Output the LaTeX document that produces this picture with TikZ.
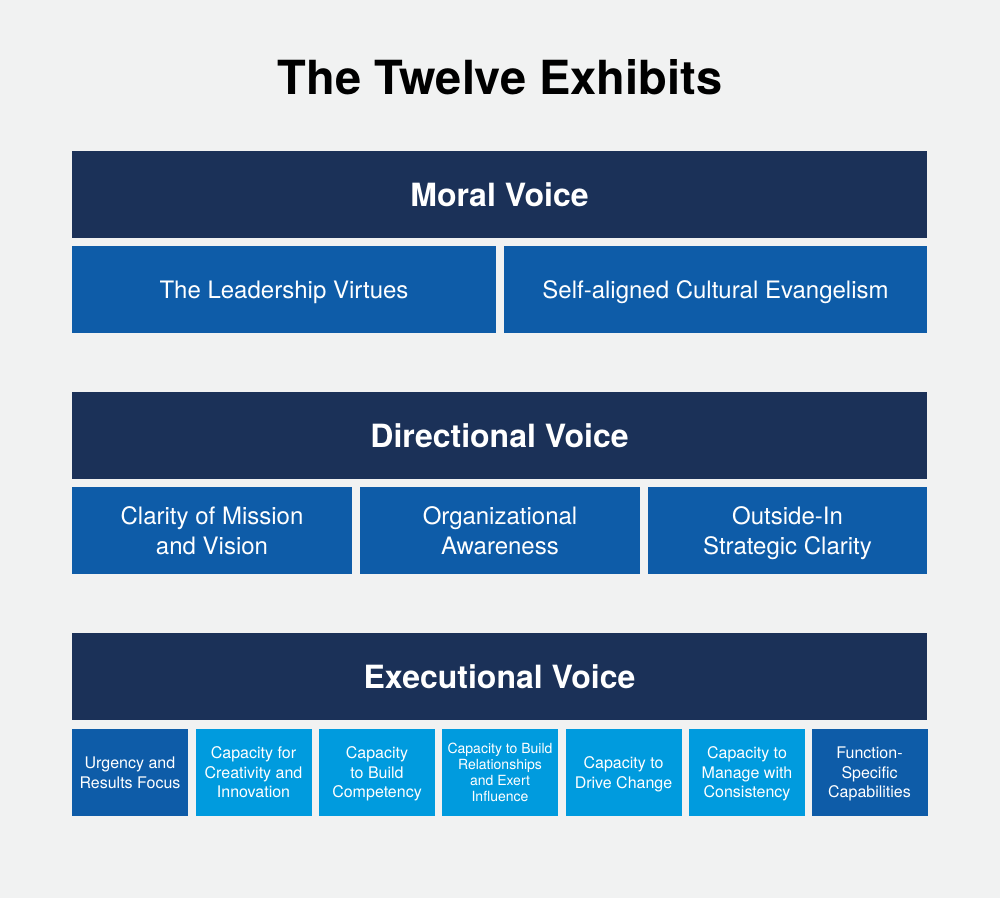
\documentclass[tikz,border=0pt]{standalone}
\usepackage{fontspec}
\setmainfont{TeX Gyre Heros}
\definecolor{bg}{RGB}{241,242,242}
\definecolor{navy}{RGB}{27,49,88}
\definecolor{midblue}{RGB}{14,92,168}
\definecolor{lightblue}{RGB}{0,155,222}
\tikzset{
  hdr/.style={fill=navy, text=white, inner sep=0pt, minimum width=855pt, minimum height=87pt,
    font=\bfseries\fontsize{32}{36}\selectfont},
  subbox/.style={fill=midblue, text=white, inner sep=0pt, minimum height=87pt, align=center,
    text depth=0pt, font=\fontsize{24}{30}\selectfont},
  oneline/.style={text height=17pt},
  smallbox/.style={fill=#1, text=white, inner sep=0pt, minimum height=87pt, minimum width=116pt, align=center,
    text depth=0pt, font=\fontsize{16}{19.5}\selectfont},
}
\begin{document}
\begin{tikzpicture}[x=1pt,y=-1pt]
\useasboundingbox[fill=bg] (0,0) rectangle (1000,898);
\node[font=\bfseries\fontsize{47}{52}\selectfont] (title) at (500,77) {The Twelve Exhibits};
% Moral
\node[hdr] (moral) at (499.5,194.5) {Moral Voice};
\node[subbox, oneline, minimum width=424pt] (virt) at (284,289.5) {The Leadership Virtues};
\node[subbox, oneline, minimum width=423pt] (evang) at (715.5,289.5) {Self-aligned Cultural Evangelism};
% Directional
\node[hdr] (dir) at (499.5,435.5) {Directional Voice};
\node[subbox, minimum width=280pt] (clar) at (212,530.5) {Clarity of Mission\\and Vision};
\node[subbox, minimum width=280pt] (org) at (500,530.5) {Organizational\\Awareness};
\node[subbox, minimum width=279pt] (out) at (787.5,530.5) {Outside-In\\Strategic Clarity};
% Executional
\node[hdr] (exec) at (499.5,676.5) {Executional Voice};
\node[smallbox=midblue] (urg) at (130,772.5) {Urgency and\\Results Focus};
\node[smallbox=lightblue] (crea) at (253.5,772.5) {Capacity for\\Creativity and\\Innovation};
\node[smallbox=lightblue] (comp) at (377,772.5) {Capacity\\to Build\\Competency};
\node[smallbox=lightblue, font=\fontsize{14}{16}\selectfont] (rel) at (500,772.5) {Capacity to Build\\Relationships\\and Exert\\Influence};
\node[smallbox=lightblue] (chg) at (623.5,772.5) {Capacity to\\Drive Change};
\node[smallbox=lightblue] (cons) at (747,772.5) {Capacity to\\Manage with\\Consistency};
\node[smallbox=midblue] (func) at (869.5,772.5) {Function-\\Specific\\Capabilities};
\end{tikzpicture}
\end{document}
